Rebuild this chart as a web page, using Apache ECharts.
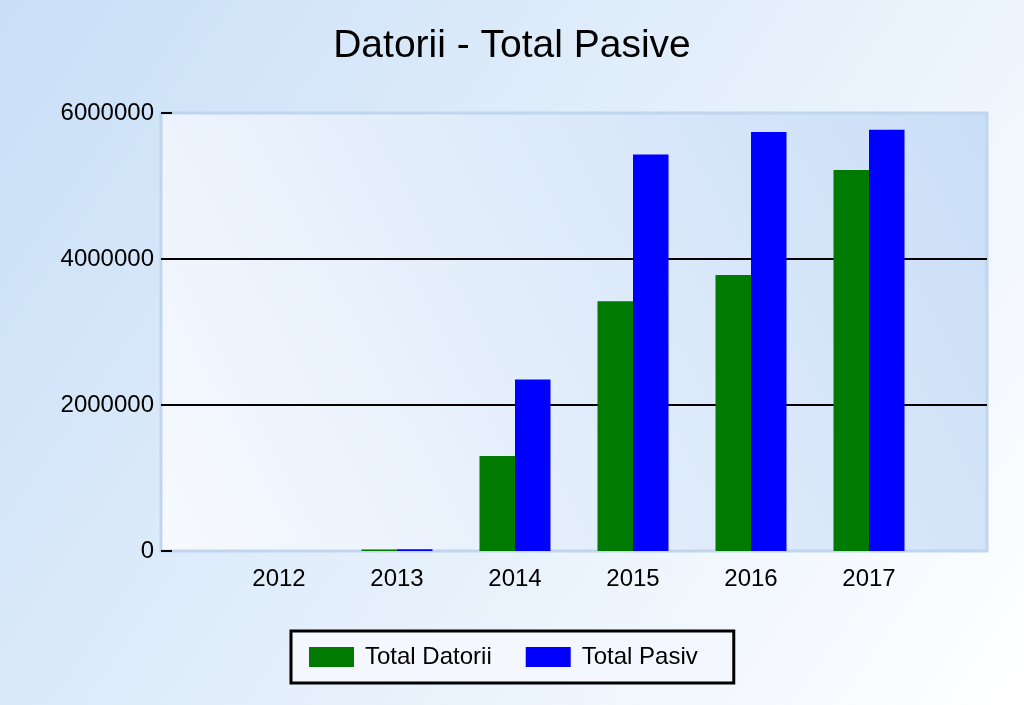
<!DOCTYPE html>
<html>
<head>
<meta charset="utf-8">
<script src="https://cdn.jsdelivr.net/npm/echarts@6/dist/echarts.min.js"></script>
<style>
html,body{margin:0;padding:0;}
#chart{width:1024px;height:705px;}
</style>
</head>
<body>
<div id="chart"></div>
<script>
const years = [2012, 2013, 2014, 2015, 2016, 2017];
const totalDatorii = [0, 20000, 1300000, 3420000, 3780000, 5220000];
const totalPasiv = [0, 25000, 2350000, 5430000, 5740000, 5770000];
const seriesNames = ['Total Datorii', 'Total Pasiv'];
const yTicks = [0, 2000000, 4000000, 6000000];

const chart = echarts.init(document.getElementById('chart'));
const font = 'Liberation Sans, Arial, sans-serif';
const option = {
  backgroundColor: new echarts.graphic.LinearGradient(0, 0, 1, 1, [
    {offset: 0, color: '#c8dff7'},
    {offset: 1, color: '#ffffff'}
  ]),
  animation: false,
  title: {
    text: 'Datorii - Total Pasive',
    left: 'center',
    top: 22,
    textStyle: {fontFamily: font, fontSize: 39, fontWeight: 'normal', color: '#000'}
  },
  grid: {
    left: 161, right: 37, top: 113, bottom: 154,
    show: true,
    borderColor: '#c0d6ee',
    borderWidth: 3,
    backgroundColor: new echarts.graphic.LinearGradient(0, 1, 1, 0, [
      {offset: 0, color: '#f7fafe'},
      {offset: 1, color: '#c9def7'}
    ])
  },
  legend: {
    data: seriesNames,
    left: 291,
    top: 631,
    backgroundColor: '#f4f8fe',
    borderColor: '#000',
    borderWidth: 3,
    padding: [14, 36, 14, 18],
    itemWidth: 45,
    itemHeight: 20,
    itemGap: 34,
    icon: 'rect',
    textStyle: {fontFamily: font, fontSize: 24, color: '#000', padding: [0, 0, 0, 6]}
  },
  xAxis: {
    type: 'value',
    min: 2011,
    max: 2018,
    interval: 1,
    axisLine: {show: false},
    axisTick: {show: false},
    splitLine: {show: false},
    axisLabel: {
      fontFamily: font, fontSize: 24, color: '#000', margin: 16,
      formatter: v => years.includes(v) ? String(v) : ''
    }
  },
  yAxis: {
    type: 'value',
    min: yTicks[0],
    max: yTicks[yTicks.length - 1],
    interval: 2000000,
    axisLine: {show: false},
    axisTick: {show: true, inside: true, length: 11, lineStyle: {color: '#000', width: 2}},
    splitLine: {show: true, showMinLine: false, showMaxLine: false, lineStyle: {color: '#000', width: 2}},
    axisLabel: {fontFamily: font, fontSize: 24, color: '#000', margin: 7, formatter: v => String(v)}
  },
  series: [
    {
      name: seriesNames[0],
      type: 'bar',
      barWidth: 35.5,
      barGap: '0%',
      itemStyle: {color: '#007a00'},
      data: years.map((y, i) => [y, totalDatorii[i]])
    },
    {
      name: seriesNames[1],
      type: 'bar',
      barWidth: 35.5,
      barGap: '0%',
      itemStyle: {color: '#0000ff'},
      data: years.map((y, i) => [y, totalPasiv[i]])
    }
  ]
};
chart.setOption(option);
</script>
</body>
</html>
